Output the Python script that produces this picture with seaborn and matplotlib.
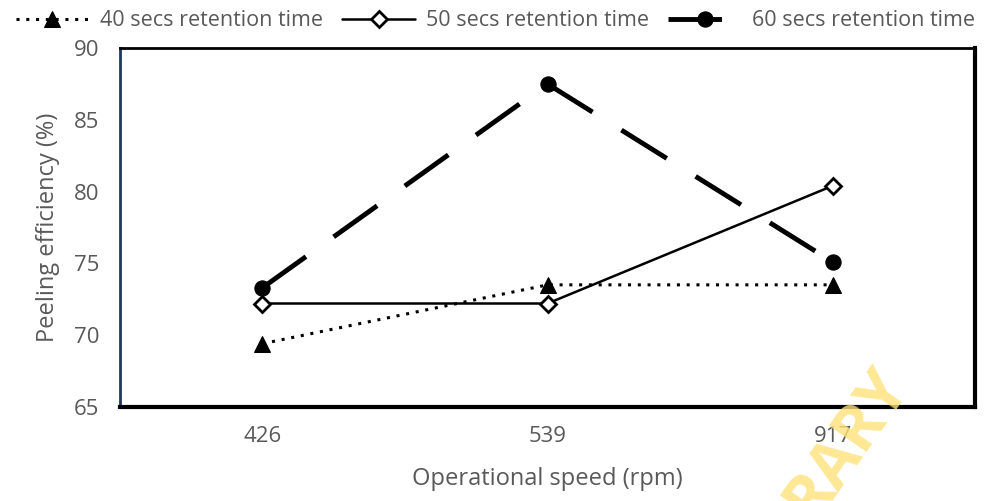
import matplotlib
matplotlib.use("Agg")
import matplotlib.pyplot as plt
import seaborn as sns
import pandas as pd

# operational speed (rpm) on the x axis
speeds = ["426", "539", "917"]

# peeling efficiency (%) for each retention time
eff_40 = [69.4, 73.5, 73.5]
eff_50 = [72.2, 72.2, 80.4]
eff_60 = [73.3, 87.5, 75.1]

labels = ["40 secs retention time", "50 secs retention time", "60 secs retention time"]

sns.set_style("white")
plt.rcParams['font.family'] = ['Open Sans', 'DejaVu Sans']
grey = '#595959'

fig = plt.figure(figsize=(9.91, 5.01), dpi=100)
ax = fig.add_axes([0.121, 0.188, 0.863, 0.716])

df = pd.DataFrame({"speed": speeds, "e40": eff_40, "e50": eff_50, "e60": eff_60})

#40 secs - dotted with triangles
sns.lineplot(data=df, x="speed", y="e40", ax=ax, color='black', lw=2.2,
             linestyle=(0, (1, 2.2)), marker='^', markersize=11,
             markeredgecolor='black', label=labels[0])
#50 secs - solid with open diamonds
sns.lineplot(data=df, x="speed", y="e50", ax=ax, color='black', lw=1.8,
             marker='D', markersize=8, markerfacecolor='white',
             markeredgecolor='black', markeredgewidth=2, label=labels[1])
#60 secs - thick dashes with circles
sns.lineplot(data=df, x="speed", y="e60", ax=ax, color='black', lw=3.5,
             linestyle=(0, (11, 7)), marker='o', markersize=11,
             markeredgecolor='black', label=labels[2])

ax.set_xlim(-0.5, 2.5)
ax.set_ylim(65, 90)
ax.set_yticks([65, 70, 75, 80, 85, 90])
ax.tick_params(axis='y', direction='in', length=5, width=1, color='#4472C4',
               labelsize=16, labelcolor=grey, pad=15)
ax.tick_params(axis='x', length=0, labelsize=16, labelcolor=grey, pad=14)
ax.set_xlabel("Operational speed (rpm)", fontsize=17, color=grey, labelpad=14)
ax.set_ylabel("Peeling efficiency (%)", fontsize=17, color=grey, labelpad=10)

for side in ['top', 'right', 'bottom', 'left']:
    ax.spines[side].set_visible(True)
    ax.spines[side].set_color('black')
ax.spines['top'].set_linewidth(2)
ax.spines['right'].set_linewidth(3)
ax.spines['bottom'].set_linewidth(3)
ax.spines['left'].set_linewidth(2)
ax.spines['left'].set_color('#1F3864')

ax.get_legend().remove()
handles, _ = ax.get_legend_handles_labels()
fig.legend(handles, labels, loc='upper center', bbox_to_anchor=(0.5, 1.005),
           ncol=3, frameon=False, fontsize=15.5, labelcolor=grey,
           handlelength=3.4, columnspacing=0.9, handletextpad=0.5,
           borderaxespad=0.2)

#watermark
fig.text(0.855, 0.115, "RARY", rotation=55, fontsize=46, fontweight='bold',
         color='#FFE27A', alpha=0.8, ha='center', va='center', zorder=0)

fig.savefig("out.png", dpi=100)
